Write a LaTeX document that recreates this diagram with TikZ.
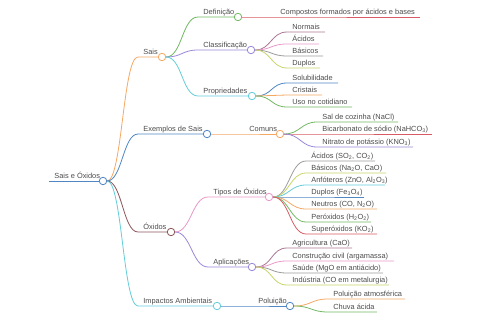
\documentclass[tikz,border=0pt]{standalone}
\usepackage{fontspec}
\setmainfont{Liberation Sans}
\usetikzlibrary{positioning,calc}

\definecolor{cBlue}{RGB}{80,135,195}
\definecolor{cOrange}{RGB}{245,168,100}
\definecolor{cBrown}{RGB}{140,85,90}
\definecolor{cCyan}{RGB}{100,205,218}
\definecolor{cGreen}{RGB}{115,185,100}
\definecolor{cPurple}{RGB}{155,135,215}
\definecolor{cRed}{RGB}{215,90,100}
\definecolor{cMauve}{RGB}{170,118,148}
\definecolor{cPink}{RGB}{232,152,200}
\definecolor{cGray}{RGB}{155,155,155}
\definecolor{cLime}{RGB}{200,212,105}
\definecolor{cText}{RGB}{75,75,75}

\begin{document}
\begin{tikzpicture}[
    x=1pt, y=-1pt,
    lbl/.style={font=\fontsize{7.4}{9}\selectfont, text=cText, inner sep=0pt, anchor=base west, xshift=5pt, yshift=2.5pt},
    dot/.style={circle, draw=#1, fill=white, line width=0.8pt, minimum size=7.5pt, inner sep=0pt},
    br/.style={draw=#1, line width=0.8pt}
]
\useasboundingbox (0,0) rectangle (480,320);

    \node[dot=cBlue] (Root) at (103,181) {};
    \coordinate (Root_s) at (49,181);
    \draw[br=cBlue] (Root_s) -- (Root.west) node[lbl, pos=0] (Root_t) {Sais e Óxidos};

    \node[dot=cOrange] (Sais)     at (162,57)  {};
    \node[dot=cBlue]   (ExSais)   at (207,134) {};
    \node[dot=cBrown]  (Oxidos)   at (171,232) {};
    \node[dot=cCyan]   (Impactos) at (217,306) {};

    \coordinate (Sais_s)     at (138,57);
    \coordinate (ExSais_s)   at (138,134);
    \coordinate (Oxidos_s)   at (138,232);
    \coordinate (Impactos_s) at (138,306);

    \draw[br=cOrange] (Root.east) .. controls +(15,0) and +(-15,0) .. (Sais_s) -- (Sais.west) node[lbl, pos=0] (Sais_t) {Sais};
    \draw[br=cBlue] (Root.east) .. controls +(15,0) and +(-15,0) .. (ExSais_s) -- (ExSais.west) node[lbl, pos=0] (ExSais_t) {Exemplos de Sais};
    \draw[br=cBrown] (Root.east) .. controls +(15,0) and +(-15,0) .. (Oxidos_s) -- (Oxidos.west) node[lbl, pos=0] (Oxidos_t) {Óxidos};
    \draw[br=cCyan] (Root.east) .. controls +(15,0) and +(-15,0) .. (Impactos_s) -- (Impactos.west) node[lbl, pos=0] (Impactos_t) {Impactos Ambientais};

    % Sais
    \node[dot=cGreen]  (Def)   at (238,17) {};
    \node[dot=cPurple] (Class) at (251,50) {};
    \node[dot=cCyan]   (Prop)  at (252,96) {};

    \coordinate (Def_s)   at (198,17);
    \coordinate (Class_s) at (198,50);
    \coordinate (Prop_s)  at (198,96);

    \draw[br=cGreen] (Sais.east) .. controls +(16,0) and +(-16,0) .. (Def_s) -- (Def.west) node[lbl, pos=0] (Def_t) {Definição};
    \draw[br=cPurple] (Sais.east) .. controls +(16,0) and +(-16,0) .. (Class_s) -- (Class.west) node[lbl, pos=0] (Class_t) {Classificação};
    \draw[br=cCyan] (Sais.east) .. controls +(16,0) and +(-16,0) .. (Prop_s) -- (Prop.west) node[lbl, pos=0] (Prop_t) {Propriedades};

    \coordinate (Comp_s) at (275,17); \coordinate (Comp_e) at (420,17);
    \draw[br=cRed] (Def.east) -- (Comp_s) -- (Comp_e) node[lbl, pos=0] (Comp) {Compostos formados por ácidos e bases};

    \coordinate (Norm_s) at (287,32); \coordinate (Norm_e) at (325,32);
    \coordinate (Acid_s) at (287,44); \coordinate (Acid_e) at (319,44);
    \coordinate (Basi_s) at (287,56); \coordinate (Basi_e) at (323,56);
    \coordinate (Dupl_s) at (287,68); \coordinate (Dupl_e) at (320,68);
    \draw[br=cMauve] (Class.east) .. controls +(16,0) and +(-16,0) .. (Norm_s) -- (Norm_e) node[lbl, pos=0] (Norm) {Normais};
    \draw[br=cPink] (Class.east) .. controls +(16,0) and +(-16,0) .. (Acid_s) -- (Acid_e) node[lbl, pos=0] (Acid) {Ácidos};
    \draw[br=cGray] (Class.east) .. controls +(16,0) and +(-16,0) .. (Basi_s) -- (Basi_e) node[lbl, pos=0] (Basi) {Básicos};
    \draw[br=cLime] (Class.east) .. controls +(16,0) and +(-16,0) .. (Dupl_s) -- (Dupl_e) node[lbl, pos=0] (Dupl) {Duplos};

    \coordinate (Solu_s) at (287,83);  \coordinate (Solu_e) at (338,83);
    \coordinate (Cris_s) at (287,95);  \coordinate (Cris_e) at (322,95);
    \coordinate (Uso_s)  at (287,107); \coordinate (Uso_e)  at (352,107);
    \draw[br=cBlue] (Prop.east) .. controls +(16,0) and +(-16,0) .. (Solu_s) -- (Solu_e) node[lbl, pos=0] (Solu) {Solubilidade};
    \draw[br=cOrange] (Prop.east) .. controls +(16,0) and +(-16,0) .. (Cris_s) -- (Cris_e) node[lbl, pos=0] (Cris) {Cristais};
    \draw[br=cGreen] (Prop.east) .. controls +(16,0) and +(-16,0) .. (Uso_s) -- (Uso_e) node[lbl, pos=0] (Uso) {Uso no cotidiano};

    % Exemplos de Sais
    \node[dot=cOrange] (Comuns) at (280,134) {};
    \coordinate (Comuns_s) at (244,134);
    \draw[br=cOrange] (ExSais.east) -- (Comuns_s) -- (Comuns.west) node[lbl, pos=0] (Comuns_t) {Comuns};

    \coordinate (NaCl_s)  at (317,122); \coordinate (NaCl_e)  at (398,122);
    \coordinate (Bicar_s) at (317,134); \coordinate (Bicar_e) at (432,134);
    \coordinate (Nitr_s)  at (317,147); \coordinate (Nitr_e)  at (413,147);
    \draw[br=cGreen] (Comuns.east) .. controls +(16,0) and +(-16,0) .. (NaCl_s) -- (NaCl_e) node[lbl, pos=0] (NaCl) {Sal de cozinha (NaCl)};
    \draw[br=cRed] (Comuns.east) -- (Bicar_s) -- (Bicar_e) node[lbl, pos=0] (Bicar) {Bicarbonato de sódio (NaHCO\textsubscript{3})};
    \draw[br=cPurple] (Comuns.east) .. controls +(16,0) and +(-16,0) .. (Nitr_s) -- (Nitr_e) node[lbl, pos=0] (Nitr) {Nitrato de potássio (KNO\textsubscript{3})};

    % Oxidos
    \node[dot=cPink]   (Tipos) at (269,197) {};
    \node[dot=cPurple] (Aplic) at (252,267) {};
    \coordinate (Tipos_s) at (208,197);
    \coordinate (Aplic_s) at (208,267);
    \draw[br=cPink] (Oxidos.east) .. controls +(16,0) and +(-16,0) .. (Tipos_s) -- (Tipos.west) node[lbl, pos=0] (Tipos_t) {Tipos de Óxidos};
    \draw[br=cPurple] (Oxidos.east) .. controls +(16,0) and +(-16,0) .. (Aplic_s) -- (Aplic.west) node[lbl, pos=0] (Aplic_t) {Aplicações};

    \coordinate (OAcid_s) at (306,161); \coordinate (OAcid_e) at (375,161);
    \coordinate (OBasi_s) at (306,173); \coordinate (OBasi_e) at (386,173);
    \coordinate (Anfo_s)  at (306,185); \coordinate (Anfo_e)  at (385,185);
    \coordinate (ODupl_s) at (306,197); \coordinate (ODupl_e) at (364,197);
    \coordinate (Neut_s)  at (306,209); \coordinate (Neut_e)  at (377,209);
    \coordinate (Pero_s)  at (306,222); \coordinate (Pero_e)  at (371,222);
    \coordinate (Super_s) at (306,234); \coordinate (Super_e) at (377,234);
    \draw[br=cGray] (Tipos.east) .. controls +(16,0) and +(-16,0) .. (OAcid_s) -- (OAcid_e) node[lbl, pos=0] (OAcid) {Ácidos (SO\textsubscript{2}, CO\textsubscript{2})};
    \draw[br=cLime] (Tipos.east) .. controls +(16,0) and +(-16,0) .. (OBasi_s) -- (OBasi_e) node[lbl, pos=0] (OBasi) {Básicos (Na\textsubscript{2}O, CaO)};
    \draw[br=cCyan] (Tipos.east) .. controls +(16,0) and +(-16,0) .. (Anfo_s) -- (Anfo_e) node[lbl, pos=0] (Anfo) {Anfóteros (ZnO, Al\textsubscript{2}O\textsubscript{3})};
    \draw[br=cBlue] (Tipos.east) -- (ODupl_s) -- (ODupl_e) node[lbl, pos=0] (ODupl) {Duplos (Fe\textsubscript{3}O\textsubscript{4})};
    \draw[br=cOrange] (Tipos.east) .. controls +(16,0) and +(-16,0) .. (Neut_s) -- (Neut_e) node[lbl, pos=0] (Neut) {Neutros (CO, N\textsubscript{2}O)};
    \draw[br=cGreen] (Tipos.east) .. controls +(16,0) and +(-16,0) .. (Pero_s) -- (Pero_e) node[lbl, pos=0] (Pero) {Peróxidos (H\textsubscript{2}O\textsubscript{2})};
    \draw[br=cRed] (Tipos.east) .. controls +(16,0) and +(-16,0) .. (Super_s) -- (Super_e) node[lbl, pos=0] (Super) {Superóxidos (KO\textsubscript{2})};

    \coordinate (Agri_s)  at (287,248); \coordinate (Agri_e)  at (352,248);
    \coordinate (Const_s) at (287,261); \coordinate (Const_e) at (394,261);
    \coordinate (Saude_s) at (287,273); \coordinate (Saude_e) at (383,273);
    \coordinate (Indu_s)  at (287,285); \coordinate (Indu_e)  at (389,285);
    \draw[br=cMauve] (Aplic.east) .. controls +(16,0) and +(-16,0) .. (Agri_s) -- (Agri_e) node[lbl, pos=0] (Agri) {Agricultura (CaO)};
    \draw[br=cPink] (Aplic.east) .. controls +(16,0) and +(-16,0) .. (Const_s) -- (Const_e) node[lbl, pos=0] (Const) {Construção civil (argamassa)};
    \draw[br=cGray] (Aplic.east) .. controls +(16,0) and +(-16,0) .. (Saude_s) -- (Saude_e) node[lbl, pos=0] (Saude) {Saúde (MgO em antiácido)};
    \draw[br=cLime] (Aplic.east) .. controls +(16,0) and +(-16,0) .. (Indu_s) -- (Indu_e) node[lbl, pos=0] (Indu) {Indústria (CO em metalurgia)};

    % Impactos
    \node[dot=cBlue] (Polu) at (290,306) {};
    \coordinate (Polu_s) at (253,306);
    \draw[br=cBlue] (Impactos.east) -- (Polu_s) -- (Polu.west) node[lbl, pos=0] (Polu_t) {Poluição};

    \coordinate (Atmo_s)  at (328,299); \coordinate (Atmo_e)  at (405,299);
    \coordinate (Chuva_s) at (328,312); \coordinate (Chuva_e) at (377,312);
    \draw[br=cOrange] (Polu.east) .. controls +(17,0) and +(-17,0) .. (Atmo_s) -- (Atmo_e) node[lbl, pos=0] (Atmo) {Poluição atmosférica};
    \draw[br=cGreen] (Polu.east) .. controls +(17,0) and +(-17,0) .. (Chuva_s) -- (Chuva_e) node[lbl, pos=0] (Chuva) {Chuva ácida};

\end{tikzpicture}
\end{document}
